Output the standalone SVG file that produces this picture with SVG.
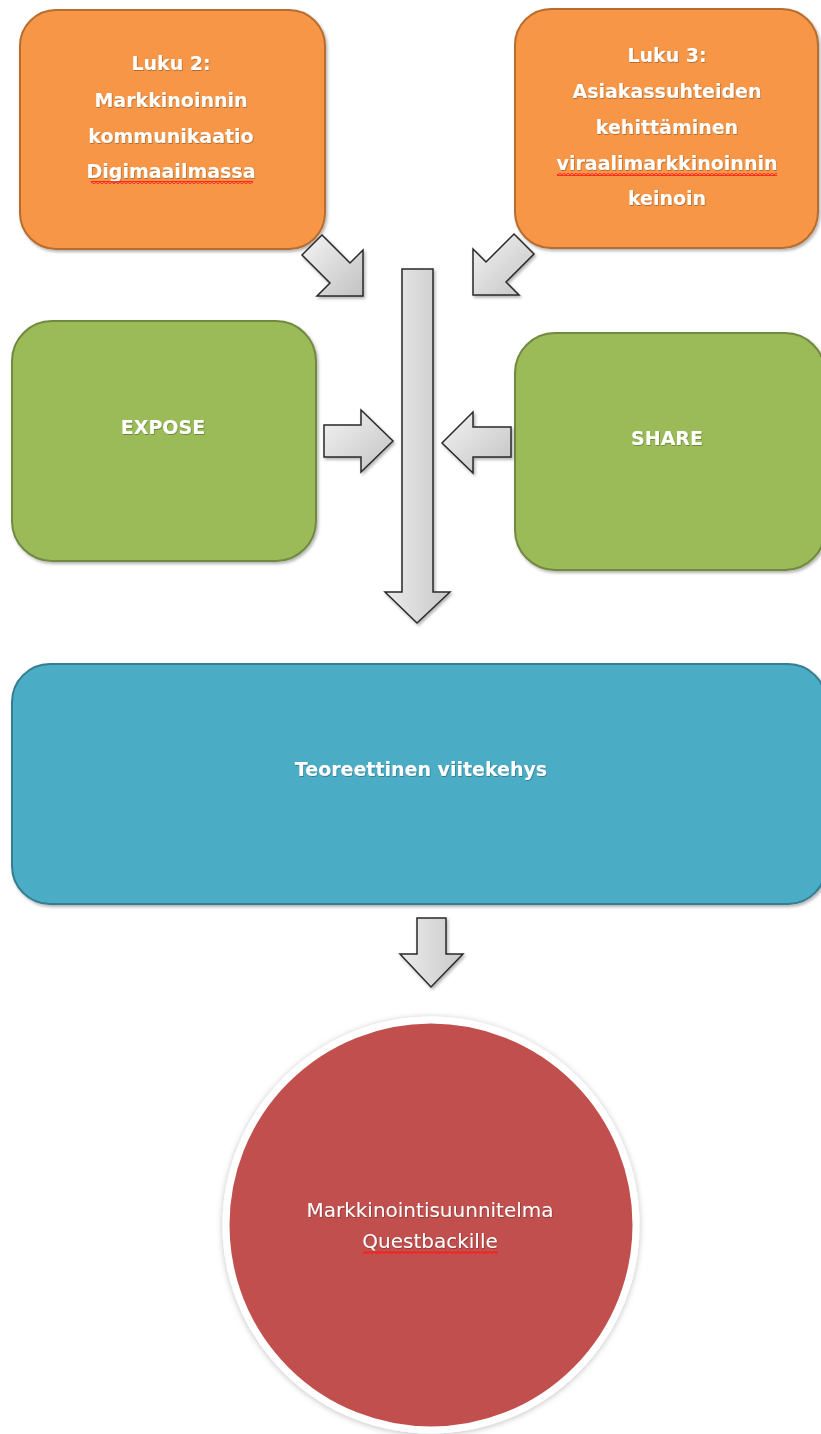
<svg xmlns="http://www.w3.org/2000/svg" width="821" height="1434" viewBox="0 0 821 1434">
<defs>
  <linearGradient id="arrowGrad" x1="0" y1="0" x2="1" y2="1">
    <stop offset="0" stop-color="#f4f4f4"/>
    <stop offset="1" stop-color="#c2c2c2"/>
  </linearGradient>
  <linearGradient id="arrowGradH" x1="0" y1="0" x2="1" y2="0">
    <stop offset="0" stop-color="#ececec"/>
    <stop offset="1" stop-color="#c8c8c8"/>
  </linearGradient>
  <filter id="shadow" x="-10%" y="-10%" width="130%" height="130%">
    <feDropShadow dx="1.5" dy="2" stdDeviation="1.5" flood-color="#000" flood-opacity="0.3"/>
  </filter>
  <filter id="circleShadow" x="-10%" y="-10%" width="120%" height="120%">
    <feDropShadow dx="0" dy="1" stdDeviation="3" flood-color="#000" flood-opacity="0.25"/>
  </filter>
  <filter id="textShadow" x="-5%" y="-20%" width="110%" height="150%">
    <feDropShadow dx="0.6" dy="0.8" stdDeviation="0.5" flood-color="#000" flood-opacity="0.35"/>
  </filter>
  <pattern id="squiggle" width="4" height="3" patternUnits="userSpaceOnUse">
    <path d="M0,2.5 L2,0.5 L4,2.5" fill="none" stroke="#ff1a1a" stroke-width="1.3"/>
  </pattern>
  <style>
    .orange { fill: #f79646; stroke: #b66d31; stroke-width: 2; }
    .green { fill: #9bbb59; stroke: #71893f; stroke-width: 2; }
    .blue { fill: #4bacc6; stroke: #357d91; stroke-width: 2; }
    .red { fill: #c0504d; stroke: #ffffff; stroke-width: 7; }
    .lbl { font-family: "DejaVu Sans", "Liberation Sans", sans-serif; font-size: 19px; font-weight: bold; fill: #ffffff; text-anchor: middle; }
    .lblc { font-family: "DejaVu Sans", "Liberation Sans", sans-serif; font-size: 20px; font-weight: normal; fill: #ffffff; text-anchor: middle; }
    .arrow { fill: url(#arrowGrad); stroke: #2a2a2a; stroke-width: 1.5; stroke-linejoin: miter; }
    .arrowv { fill: url(#arrowGradH); stroke: #2a2a2a; stroke-width: 1.5; stroke-linejoin: miter; }
    .sq { fill: url(#squiggle); }
  </style>
</defs>
<rect width="821" height="1434" fill="#ffffff"/>

<g id="node-luku2">
  <rect class="orange" x="20" y="10" width="305" height="239" rx="36" ry="36" filter="url(#shadow)"/>
  <g filter="url(#textShadow)">
    <text class="lbl" x="171" y="70">Luku 2:</text>
    <text class="lbl" x="171" y="107">Markkinoinnin</text>
    <text class="lbl" x="171" y="143">kommunikaatio</text>
    <text class="lbl" x="171" y="178">Digimaailmassa</text>
  </g>
  <rect class="sq" x="91" y="181" width="162" height="3"/>
</g>

<g id="node-luku3">
  <rect class="orange" x="515" y="9" width="303" height="239" rx="36" ry="36" filter="url(#shadow)"/>
  <g filter="url(#textShadow)">
    <text class="lbl" x="667" y="62">Luku 3:</text>
    <text class="lbl" x="667" y="98">Asiakassuhteiden</text>
    <text class="lbl" x="667" y="134">kehittäminen</text>
    <text class="lbl" x="667" y="170">viraalimarkkinoinnin</text>
    <text class="lbl" x="667" y="205">keinoin</text>
  </g>
  <rect class="sq" x="557" y="173" width="220" height="3"/>
</g>

<g id="node-expose">
  <rect class="green" x="12" y="321" width="304" height="240" rx="40" ry="40" filter="url(#shadow)"/>
  <text class="lbl" x="163" y="434" filter="url(#textShadow)">EXPOSE</text>
</g>

<g id="node-share">
  <rect class="green" x="515" y="333" width="310" height="237" rx="40" ry="40" filter="url(#shadow)"/>
  <text class="lbl" x="667" y="445" filter="url(#textShadow)">SHARE</text>
</g>

<g id="node-teoreettinen">
  <rect class="blue" x="12" y="664" width="814" height="240" rx="38" ry="38" filter="url(#shadow)"/>
  <text class="lbl" x="421" y="776" filter="url(#textShadow)">Teoreettinen viitekehys</text>
</g>

<g id="node-markkinointisuunnitelma">
  <circle class="red" cx="431" cy="1225" r="205" filter="url(#circleShadow)"/>
  <g filter="url(#textShadow)">
    <text class="lblc" x="430" y="1217">Markkinointisuunnitelma</text>
    <text class="lblc" x="430" y="1248">Questbackille</text>
  </g>
  <rect class="sq" x="363" y="1251" width="135" height="3"/>
</g>

<g id="connectors">
  <polygon class="arrow" filter="url(#shadow)" points="322,235 350,263 363,250 363,296 317,296 330,283 302,255"/>
  <polygon class="arrow" filter="url(#shadow)" points="514,234 534,254 506,282 519,295 473,295 473,249 486,262"/>
  <polygon class="arrowv" filter="url(#shadow)" points="402,269 433,269 433,592 450,592 417,623 385,592 402,592"/>
  <polygon class="arrow" filter="url(#shadow)" points="324,425 361,425 361,410 393,441 361,472 361,457 324,457"/>
  <polygon class="arrow" filter="url(#shadow)" points="511,427 473,427 473,412 442,443 473,473 473,457 511,457"/>
  <polygon class="arrowv" filter="url(#shadow)" points="417,918 446,918 446,954 463,954 431,987 400,954 417,954"/>
</g>
</svg>
